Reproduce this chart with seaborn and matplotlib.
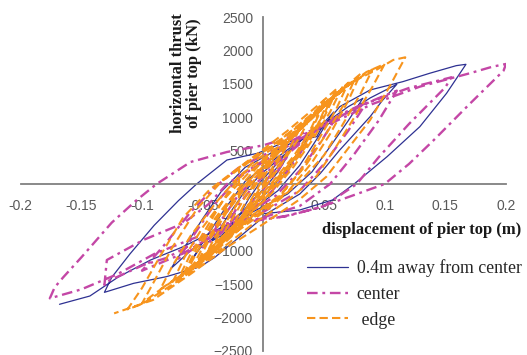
import matplotlib
matplotlib.use('Agg')
import matplotlib.pyplot as plt
import seaborn as sns
import pandas as pd

# Hysteresis curves: (displacement m, thrust kN)
away_pts = [
    (0, 0), (0.01, 220), (0.02, 420), (0.012, 180), (0.002, -40), (-0.01, -260), (-0.02, -480),
    (-0.012, -220), (-0.002, 40), (0.015, 380), (0.03, 640), (0.04, 800), (0.03, 480), (0.015, 100),
    (0, -180), (-0.02, -520), (-0.035, -780), (-0.042, -850), (-0.03, -500), (-0.015, -100),
    (0, 180), (0.02, 480), (0.04, 790), (0.052, 960), (0.058, 1080), (0.045, 700), (0.03, 280),
    (0.012, -100), (-0.01, -400), (-0.03, -660), (-0.052, -960), (-0.06, -1165), (-0.048, -820),
    (-0.032, -380), (-0.015, 40), (0.01, 380), (0.03, 650), (0.05, 900), (0.07, 1160), (0.082, 1285),
    (0.07, 950), (0.055, 560), (0.04, 180), (0.02, -150), (-0.01, -430), (-0.04, -760), (-0.06, -1000),
    (-0.076, -1265), (-0.065, -950), (-0.05, -520), (-0.035, -120), (-0.015, 250), (0.01, 500),
    (0.04, 760), (0.063, 1000), (0.088, 1290), (0.110, 1495), (0.098, 1250), (0.088, 1010),
    (0.063, 510), (0.047, 160), (0.03, -150), (0.005, -420), (-0.02, -800), (-0.04, -1100),
    (-0.052, -1240), (-0.08, -1390), (-0.107, -1490), (-0.131, -1625), (-0.125, -1400),
    (-0.11, -1050), (-0.09, -620), (-0.07, -250), (-0.055, 0), (-0.03, 360), (-0.005, 460),
    (0.016, 615), (0.044, 710), (0.047, 810), (0.063, 1160), (0.088, 1410), (0.115, 1535),
    (0.137, 1660), (0.159, 1775), (0.167, 1795), (0.151, 1360), (0.129, 860), (0.102, 410),
    (0.0755, 10), (0.057, -240), (0.03, -390), (0.003, -440), (-0.011, -465), (-0.04, -700),
    (-0.066, -940), (-0.093, -1140), (-0.12, -1400), (-0.143, -1680), (-0.168, -1804),
]

center_pts = [
    (0, 0), (0.01, 230), (0.02, 420), (0.012, 200), (0, -80), (-0.015, -380), (-0.03, -620),
    (-0.02, -300), (-0.008, -30), (0.01, 300), (0.03, 600), (0.04, 760), (0.03, 450), (0.015, 60),
    (0, -250), (-0.025, -600), (-0.045, -880), (-0.05, -950), (-0.035, -550), (-0.02, -150),
    (0, 200), (0.025, 560), (0.05, 880), (0.06, 1000), (0.048, 650), (0.03, 200), (0.01, -180),
    (-0.02, -520), (-0.05, -880), (-0.07, -1120), (-0.055, -700), (-0.04, -300), (-0.02, 100),
    (0.01, 450), (0.04, 800), (0.07, 1100), (0.085, 1220), (0.07, 800), (0.05, 300), (0.03, -100),
    (0, -420), (-0.03, -650), (-0.066, -1040), (-0.1, -1300), (-0.08, -880), (-0.06, -420),
    (-0.04, -50), (-0.02, 250), (0.01, 520), (0.05, 900), (0.09, 1250), (0.11, 1400), (0.095, 950),
    (0.075, 450), (0.055, 0), (0.03, -330), (0, -500), (-0.04, -720), (-0.08, -1110),
    (-0.099, -1215), (-0.129, -1465), (-0.131, -1515), (-0.129, -1140), (-0.099, -840),
    (-0.066, -590), (-0.045, -300), (-0.03, 0), (0, 350), (0.04, 780), (0.08, 1180), (0.12, 1440),
    (0.155, 1600), (0.15, 1450), (0.12, 900), (0.095, 400), (0.077, 0), (0.05, -330), (0.02, -480),
    (-0.01, -560), (-0.05, -760), (-0.09, -1050), (-0.12, -1350), (-0.15, -1580), (-0.176, -1715),
    (-0.172, -1550), (-0.165, -1400), (-0.15, -1100), (-0.125, -580), (-0.105, -250), (-0.088, 0),
    (-0.06, 330), (-0.03, 480), (0, 580), (0.05, 860), (0.09, 1200), (0.129, 1460), (0.17, 1660),
    (0.189, 1760), (0.2, 1800), (0.198, 1700), (0.17, 1200), (0.14, 650), (0.12, 300), (0.1, 0),
    (0.071, -190), (0.044, -365), (0.016, -490), (-0.011, -540), (-0.04, -620),
]

edge_pts = [
    (0, 0), (0.01, 330), (0.02, 600), (0.012, 330), (0.004, 100), (-0.01, -250), (-0.02, -560),
    (-0.012, -300), (-0.004, -40), (0.01, 420), (0.025, 720), (0.03, 830), (0.02, 480), (0.008, 150),
    (-0.01, -300), (-0.025, -700), (-0.03, -820), (-0.02, -450), (-0.008, -60), (0.01, 430),
    (0.03, 820), (0.04, 1050), (0.03, 700), (0.015, 300), (0, -80), (-0.02, -560), (-0.035, -900),
    (-0.04, -1020), (-0.03, -650), (-0.015, -200), (0, 200), (0.02, 640), (0.04, 1000), (0.05, 1200),
    (0.04, 820), (0.025, 420), (0.008, 40), (-0.015, -450), (-0.035, -860), (-0.05, -1150),
    (-0.04, -800), (-0.025, -380), (-0.01, 0), (0.01, 470), (0.03, 860), (0.05, 1160), (0.06, 1380),
    (0.05, 1000), (0.035, 560), (0.02, 200), (0, -250), (-0.02, -620), (-0.04, -1000), (-0.06, -1300),
    (-0.05, -950), (-0.035, -500), (-0.02, -120), (0, 300), (0.02, 650), (0.04, 1020), (0.06, 1330),
    (0.065, 1450), (0.055, 1080), (0.04, 650), (0.025, 260), (0.005, -180), (-0.02, -580),
    (-0.045, -1060), (-0.065, -1380), (-0.055, -1030), (-0.04, -570), (-0.025, -200), (-0.005, 180),
    (0.02, 620), (0.045, 1080), (0.065, 1400), (0.075, 1560), (0.065, 1150), (0.05, 700),
    (0.035, 280), (0.015, -150), (-0.01, -480), (-0.04, -960), (-0.06, -1280), (-0.075, -1480),
    (-0.065, -1100), (-0.05, -650), (-0.032, -220), (-0.012, 170), (0.015, 560), (0.04, 980),
    (0.065, 1420), (0.08, 1650), (0.07, 1250), (0.055, 750), (0.04, 320), (0.02, -120),
    (-0.005, -420), (-0.035, -900), (-0.065, -1330), (-0.085, -1580), (-0.075, -1230),
    (-0.06, -780), (-0.04, -300), (-0.02, 120), (0.01, 520), (0.04, 1000), (0.07, 1480),
    (0.09, 1720), (0.08, 1350), (0.065, 880), (0.05, 430), (0.03, 30), (0.005, -360), (-0.03, -820),
    (-0.06, -1270), (-0.09, -1650), (-0.1, -1790), (-0.09, -1460), (-0.075, -950), (-0.055, -380),
    (-0.035, 30), (0, 480), (0.03, 880), (0.06, 1350), (0.085, 1680), (0.1, 1800), (0.09, 1460),
    (0.075, 1000), (0.06, 560), (0.044, 120), (0.02, -250), (-0.01, -620), (-0.04, -1050),
    (-0.07, -1450), (-0.1, -1800), (-0.112, -1880), (-0.1, -1560), (-0.085, -1080), (-0.066, -500),
    (-0.044, -80), (-0.025, 180), (0, 520), (0.02, 800), (0.045, 1180), (0.06, 1420), (0.05, 1050),
    (0.035, 620), (0.02, 250), (0, -200), (-0.02, -540), (-0.04, -900), (-0.055, -1200),
    (-0.045, -850), (-0.03, -420), (-0.015, -60), (0.005, 330), (0.025, 720), (0.045, 1100),
    (0.055, 1300), (0.045, 900), (0.03, 480), (0.012, 100), (-0.008, -330), (-0.03, -720),
    (-0.05, -1080), (-0.065, -1320), (-0.055, -960), (-0.04, -520), (-0.022, -100), (0, 360),
    (0.03, 850), (0.05, 1180), (0.07, 1520), (0.06, 1120), (0.045, 650), (0.03, 180), (0.01, -250),
    (-0.015, -600), (-0.045, -1100), (-0.07, -1420), (-0.06, -1050), (-0.045, -600), (-0.03, -150),
    (-0.01, 300), (0.02, 700), (0.04, 1020), (0.05, 1250), (0.04, 860), (0.028, 450), (0.012, 60),
    (-0.01, -380), (-0.03, -780), (-0.045, -1080), (-0.035, -700), (-0.02, -250), (-0.02, 250),
    (0.01, 600), (0.04, 1050), (0.07, 1500), (0.093, 1710), (0.107, 1860), (0.117, 1900),
    (0.104, 1460), (0.088, 960), (0.071, 560), (0.052, 110), (0.03, -230), (0, -600), (-0.03, -950),
    (-0.06, -1350), (-0.091, -1740), (-0.123, -1940),
]

series_names = ['0.4m away from center', 'center', ' edge']
series_colors = ['#2E3192', '#C447A6', '#F7941D']

x_ticks = [-0.2, -0.15, -0.1, -0.05, 0, 0.05, 0.1, 0.15, 0.2]
x_tick_labels = ['-0.2', '-0.15', '-0.1', '-0.05', '0', '0.05', '0.1', '0.15', '0.2']
y_ticks = [-2500, -2000, -1500, -1000, -500, 0, 500, 1000, 1500, 2000, 2500]

sns.set_style('white')

fig = plt.figure(figsize=(5.27, 3.55), dpi=100)
ax = fig.add_axes([20.7 / 527, 1 - 350.7 / 355, (506 - 20.7) / 527, (350.7 - 17.3) / 355])

styles = {
    '0.4m away from center': dict(lw=0.9, linestyle='-', zorder=2),
    'center': dict(lw=1.7, linestyle=(0, (4.5, 2, 1.2, 2)), zorder=3),
    ' edge': dict(lw=1.5, linestyle=(0, (4, 2)), zorder=4),
}
pts_by_name = {'0.4m away from center': away_pts, 'center': center_pts, ' edge': edge_pts}

handles = {}
for name in series_names:
    df = pd.DataFrame(pts_by_name[name], columns=['disp', 'force'])
    color = series_colors[series_names.index(name)]
    sns.lineplot(data=df, x='disp', y='force', sort=False, estimator=None,
                 color=color, ax=ax, label=name, **styles[name])
    handles[name] = ax.get_lines()[-1]

ax.set_xlim(-0.2, 0.2)
ax.set_ylim(-2500, 2500)
ax.set_xlabel('')
ax.set_ylabel('')

for s in ['top', 'right']:
    ax.spines[s].set_visible(False)
for s in ['left', 'bottom']:
    ax.spines[s].set_position(('data', 0))
    ax.spines[s].set_color('#808080')
    ax.spines[s].set_linewidth(1.3)

ax.set_xticks(x_ticks)
ax.set_xticklabels(x_tick_labels)
ax.set_yticks(y_ticks)
ax.tick_params(direction='in', length=3, width=0.8, color='#404040',
               labelsize=10, labelcolor='#595959')
ax.tick_params(axis='x', pad=11)
ax.tick_params(axis='y', pad=7.5)
for lab in ax.get_xticklabels() + ax.get_yticklabels():
    lab.set_family('Liberation Sans')

fig.text(186 / 527, 1 - 73 / 355, 'horizontal thrust\nof pier top (kN)', rotation=90,
         ha='center', va='center', multialignment='center', family='Liberation Serif',
         fontweight='bold', fontsize=12, color='#1a1a1a', linespacing=1.0)
fig.text(422 / 527, 1 - 230 / 355, 'displacement of pier top (m)', ha='center', va='center',
         family='Liberation Serif', fontweight='bold', fontsize=12, color='#1a1a1a')

ax.legend([handles[n] for n in series_names], series_names, loc='upper left',
          bbox_to_anchor=(307 / 527, 1 - 259 / 355), bbox_transform=fig.transFigure,
          frameon=False, borderpad=0, borderaxespad=0, handlelength=2.3, handletextpad=0.5,
          labelspacing=0.5, prop={'family': 'Liberation Serif', 'size': 12.8})

fig.savefig('out.png', dpi=100)
